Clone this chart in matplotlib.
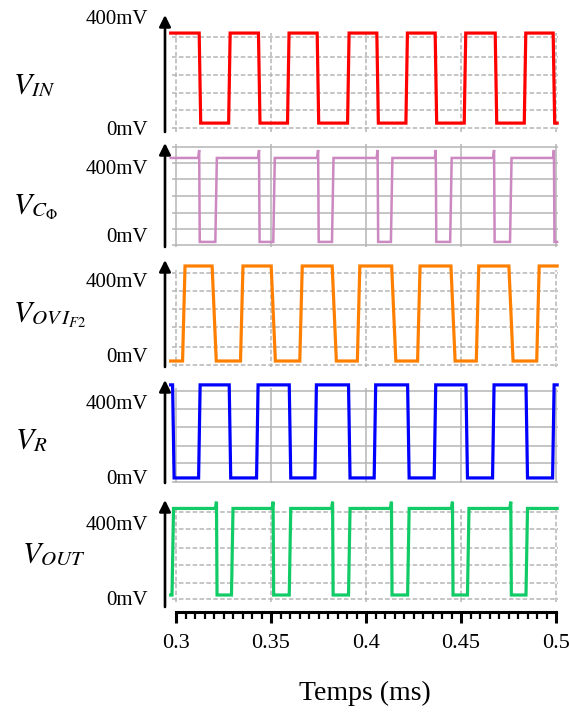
import matplotlib
matplotlib.use("Agg")
import matplotlib.pyplot as plt
import numpy as np
from matplotlib.ticker import FixedLocator

plt.rcParams["font.family"] = ["Liberation Serif", "DejaVu Serif"]
plt.rcParams["mathtext.fontset"] = "stix"

# signal names (left labels)
labels = [r"$V_{IN}$", r"$V_{C_{\Phi}}$", r"$V_{OV\,I_{F2}}$", r"$V_R$", r"$V_{OUT}$"]
colors = ["#ff0000", "#cc88c0", "#ff8000", "#0000ff", "#11cc66"]

# edge times (ms)
edges_in = [0.3126, 0.3281, 0.3438, 0.3591, 0.3747, 0.3907, 0.4061,
            0.4214, 0.4368, 0.4521, 0.4684, 0.4837, 0.4989]
edges_cphi = [0.3123, 0.3211, 0.3438, 0.3516, 0.3749, 0.3825, 0.4062,
              0.4135, 0.4368, 0.4447, 0.4675, 0.4762, 0.4990]
edges_ovif2 = [0.3041, 0.3201, 0.3346, 0.3512, 0.3658, 0.3833, 0.3961,
               0.4146, 0.4278, 0.4458, 0.4587, 0.4763, 0.4905]
edges_r = [0.2986, 0.3123, 0.3284, 0.3428, 0.3600, 0.3735, 0.3912,
           0.4047, 0.4223, 0.4363, 0.4530, 0.4670, 0.4846, 0.4986]
edges_out = [0.2983, 0.3214, 0.3296, 0.3512, 0.3600, 0.3825, 0.3912,
             0.4135, 0.4223, 0.4456, 0.4538, 0.4763, 0.4846]
all_edges = [edges_in, edges_cphi, edges_ovif2, edges_r, edges_out]
starts_high = [True, True, False, True, False]

# levels in mV (low, high, overshoot before falling edge)
low_mv = [18, -41, -32, -5, 16]
high_mv = [342, 453, 475, 491, 478]
spike_mv = [None, 500, None, None, 514]

# horizontal grid levels (mV) and y ranges per panel
grid_mv = [[0, 65, 126, 191, 256, 328],
           [-59, 35, 129, 229, 329, 424, 518],
           [-53, 43, 149, 245, 341, 437],
           [-27, 75, 165, 267, 363, 459],
           [-5, 80, 176, 267, 368, 459]]
ylims = [(-14, 407), (-71, 541), (-64, 507), (-32, 517), (-48, 523)]
grid_dashed = [True, False, True, False, True]

t_first, t_last = 0.2972, 0.5006
major_ticks = [0.3, 0.35, 0.4, 0.45, 0.5]
major_labels = ["0.3", "0.35", "0.4", "0.45", "0.5"]


def square(edges, lo, hi, first_high, spike=None, ramp_up=0.0008, ramp_dn=0.0008):
    ts, vs = [t_first], [hi if first_high else lo]
    state = first_high
    for e in edges:
        if state:
            if spike is not None:
                ts += [e - 0.0006, e - 0.0001]
                vs += [hi, spike]
                ts.append(e + 0.0002)
            else:
                ts.append(e - ramp_dn / 2)
                vs.append(hi)
                ts.append(e + ramp_dn / 2)
            vs.append(lo)
        else:
            ts += [e - ramp_up / 2, e + ramp_up / 2]
            vs += [lo, hi]
        state = not state
    ts.append(t_last)
    vs.append(hi if state else lo)
    return ts, vs


W, H = 569, 715
fig = plt.figure(figsize=(W / 100, H / 100), dpi=100)
panel_px = [(15, 132), (143, 247), (260, 367), (380, 483), (500, 607)]
label_y = [86, 207, 315, 441, 555]
label_x = [13, 13, 13, 15, 22]
ax_left, ax_right = 165, 558

for i in range(5):
    top, bot = panel_px[i]
    ax = fig.add_axes([ax_left / W, 1 - bot / H, (ax_right - ax_left) / W, (bot - top) / H])
    ax.set_xlim(0.29421, 0.50105)
    ax.set_ylim(*ylims[i])
    for s in ["top", "right", "left", "bottom"]:
        ax.spines[s].set_visible(False)

    gcol = "#b5b5b5"
    ls = (0, (3, 1.5)) if grid_dashed[i] else "-"
    g = grid_mv[i]
    pad = (ylims[i][1] - ylims[i][0]) * 0.03
    ax.hlines(g, 0.2977, 0.5011, colors=gcol, lw=1.1, linestyles=ls, zorder=1)
    ax.vlines(major_ticks, min(g) - pad, max(g) + pad, colors=gcol, lw=1.1,
              linestyles=ls, zorder=1)

    kw = {}
    if i == 2:
        kw = dict(ramp_up=0.0013, ramp_dn=0.0022)
    ts, vs = square(all_edges[i], low_mv[i], high_mv[i], starts_high[i], spike_mv[i], **kw)
    lw = 1.8 if i == 1 else 2.3
    ax.plot(ts, vs, color=colors[i], lw=lw, solid_joinstyle="miter", zorder=3, clip_on=False)

    ax.set_yticks([0, 400], ["0mV", "400mV"])
    ax.tick_params(axis="y", length=0, pad=12, labelsize=15)

    ax.annotate("", xy=(0, 1), xytext=(0, 0), xycoords="axes fraction",
                arrowprops=dict(arrowstyle="-|>", lw=1.9, color="black",
                                mutation_scale=17, shrinkA=0, shrinkB=0))

    fig.text(label_x[i] / W, 1 - label_y[i] / H, labels[i], fontsize=21.5,
             ha="left", va="center")

    if i < 4:
        ax.set_xticks([])
    else:
        ax.spines["bottom"].set_visible(True)
        ax.spines["bottom"].set_bounds(0.3, 0.5)
        ax.spines["bottom"].set_linewidth(2.2)
        ax.spines["bottom"].set_position(("outward", 3.6))
        ax.xaxis.set_major_locator(FixedLocator(major_ticks))
        ax.set_xticklabels(major_labels)
        ax.xaxis.set_minor_locator(FixedLocator(np.arange(0.3, 0.5001, 0.005)))
        ax.tick_params(axis="x", which="major", direction="out", length=8, width=2.2,
                       labelsize=16, pad=8)
        ax.tick_params(axis="x", which="minor", direction="out", length=5, width=1.6)

fig.text(365 / W, 1 - 693 / H, "Temps (ms)", fontsize=20, ha="center", va="center")

fig.savefig("out.png", dpi=100)
